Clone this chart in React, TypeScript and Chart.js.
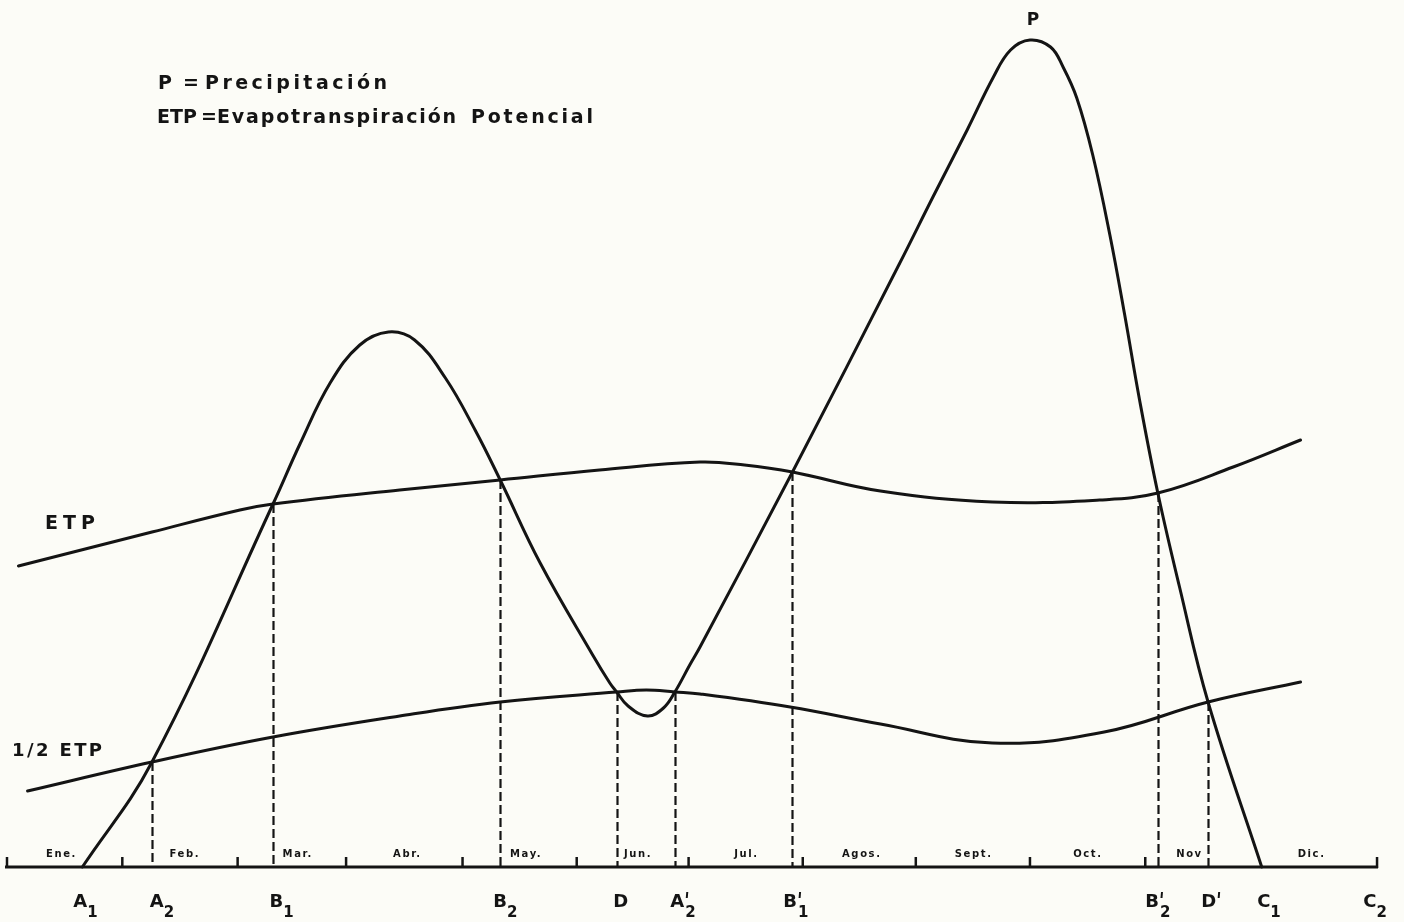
import React, { useEffect, useRef } from "react";
import { Chart, registerables } from "chart.js";

Chart.register(...registerables);

// ---- Data (x in months from 1 Jan, y in mm) ----
const monthNames = ["Ene.", "Feb.", "Mar.", "Abr.", "May.", "Jun.", "Jul.", "Agos.", "Sept.", "Oct.", "Nov", "Dic."];
const monthLabelCenters = [0.47, 1.55, 2.54, 3.5, 4.54, 5.52, 6.47, 7.48, 8.46, 9.46, 10.35, 11.42];
const monthEdges = [0, 1.01, 2.02, 2.97, 3.99, 4.99, 5.97, 6.97, 7.96, 8.96, 9.97, 12.0];

const pMonths = [0.66, 1.27, 2.33, 2.57, 2.83, 3.09, 3.34, 3.57, 3.84, 4.1, 4.32, 4.67, 5.13, 5.28, 5.34, 5.44, 5.61, 5.75, 5.85, 5.98, 6.07, 6.88, 7.82, 8.11, 8.41, 8.64, 8.79, 8.96, 9.14, 9.25, 9.37, 9.51, 9.66, 9.79, 9.92, 10.08, 10.27, 10.52, 10.99];
const pValues = [0, 42, 145.2, 169.6, 193.6, 208.8, 214, 210.8, 195.6, 174.8, 154.8, 121.6, 84.8, 73.6, 70, 64.4, 60.4, 63.6, 70, 80.8, 88, 158, 241.6, 268, 294.8, 316, 326.8, 330.8, 328, 320, 307.6, 284.8, 252.8, 220.8, 186.8, 149.6, 112, 66, 0];

const etpMonths = [0.1, 1.27, 2.04, 2.33, 3.44, 4.32, 5.19, 6.07, 6.46, 6.88, 7.65, 8.63, 9.57, 10.08, 10.74, 11.33];
const etpValues = [120.4, 134, 142.8, 145.2, 150.8, 154.8, 158.8, 162, 160.8, 158, 150.4, 146, 146.8, 149.6, 160, 170.8];

const halfMonths = [0.18, 1.27, 2.33, 3.44, 4.32, 5.34, 5.6, 5.85, 6.07, 6.86, 7.65, 8.63, 9.61, 10.52, 11.33];
const halfValues = [30.4, 42, 52, 60.4, 66, 70, 70.8, 70, 69.2, 64, 57.2, 49.6, 54, 66, 74];

const keyMonths = [1.27, 2.33, 4.32, 5.34, 5.85, 6.88, 10.08, 10.52];
const keyValues = [42, 145.2, 154.8, 70, 70, 158, 149.6, 66];

const axisLabels = ["A1", "A2", "B1", "B2", "D", "A'2", "B'1", "B'2", "D'", "C1", "C2"];
const axisLabelMonths = [0.58, 1.25, 2.3, 4.26, 5.31, 5.81, 6.8, 9.97, 10.46, 10.95, 11.88];

const W = 1404;
const H = 922;
const INK = "#141414";
const PAPER = "#fcfcf7";
const FONT = '"DejaVu Sans", "Liberation Sans", sans-serif';

function zip(xs: number[], ys: number[]) {
  return xs.map((x, i) => ({ x, y: ys[i] }));
}

function fitText(ctx: CanvasRenderingContext2D, text: string, x: number, y: number, w: number) {
  const c: any = ctx;
  c.letterSpacing = "0px";
  const m = ctx.measureText(text).width;
  const n = text.length;
  const ls = n > 1 ? (w - m) / (n - 1) : 0;
  c.letterSpacing = ls.toFixed(2) + "px";
  ctx.fillText(text, x, y);
  c.letterSpacing = "0px";
}

const diagramPlugin = {
  id: "diagram",
  beforeDraw(chart: any) {
    const ctx = chart.ctx;
    ctx.save();
    ctx.fillStyle = PAPER;
    ctx.fillRect(0, 0, chart.width, chart.height);
    ctx.restore();
  },
  beforeDatasetsDraw(chart: any) {
    const ctx = chart.ctx;
    const xs = chart.scales.x;
    const ys = chart.scales.y;
    const y0 = ys.getPixelForValue(0);
    ctx.save();
    ctx.strokeStyle = INK;
    ctx.lineWidth = 2.2;
    ctx.setLineDash([9, 4]);
    keyMonths.forEach((m, i) => {
      const px = Math.round(xs.getPixelForValue(m)) + 0.5;
      ctx.beginPath();
      ctx.moveTo(px, ys.getPixelForValue(keyValues[i]));
      ctx.lineTo(px, y0);
      ctx.stroke();
    });
    ctx.restore();
  },
  afterDatasetsDraw(chart: any) {
    const ctx = chart.ctx;
    const xs = chart.scales.x;
    const ys = chart.scales.y;
    const y0 = ys.getPixelForValue(0);
    ctx.save();
    ctx.strokeStyle = INK;
    ctx.fillStyle = INK;
    ctx.lineCap = "butt";
    // axis line
    ctx.lineWidth = 3;
    ctx.beginPath();
    ctx.moveTo(xs.getPixelForValue(monthEdges[0]) - 2, y0);
    ctx.lineTo(xs.getPixelForValue(monthEdges[monthEdges.length - 1]) + 1, y0);
    ctx.stroke();
    // ticks
    ctx.lineWidth = 2.5;
    monthEdges.forEach((m) => {
      const px = xs.getPixelForValue(m);
      ctx.beginPath();
      ctx.moveTo(px, y0 + 1);
      ctx.lineTo(px, y0 - 10);
      ctx.stroke();
    });
    // month labels
    ctx.font = "bold 10px " + FONT;
    ctx.textBaseline = "alphabetic";
    ctx.textAlign = "left";
    monthNames.forEach((name, i) => {
      const cx = xs.getPixelForValue(monthLabelCenters[i]);
      const w = ctx.measureText(name).width + (name.length - 1) * 1.6;
      fitText(ctx, name, cx - w / 2, y0 - 10, w);
    });
    // point labels under the axis
    axisLabels.forEach((lab, i) => {
      const px = xs.getPixelForValue(axisLabelMonths[i]);
      const main = lab[0];
      const prime = lab.includes("'");
      const sub = lab.replace(/[^0-9]/g, "");
      ctx.font = "bold 18px " + FONT;
      ctx.fillText(main, px, y0 + 40);
      const mw = ctx.measureText(main).width;
      if (prime) {
        ctx.lineWidth = 2;
        ctx.beginPath();
        ctx.moveTo(px + mw + 3, y0 + 25);
        ctx.lineTo(px + mw + 2.5, y0 + 31);
        ctx.stroke();
      }
      if (sub) {
        ctx.font = "bold 15px " + FONT;
        ctx.fillText(sub, px + mw + (prime ? 1 : 0), y0 + 50);
      }
    });
    // curve labels
    ctx.font = "bold 19px " + FONT;
    fitText(ctx, "ETP", 45, 529, 50);
    ctx.font = "bold 18px " + FONT;
    fitText(ctx, "1/2 ETP", 12, 756, 90);
    // P label above the main peak
    let iMax = 0;
    pValues.forEach((v, i) => {
      if (v > pValues[iMax]) iMax = i;
    });
    const peakX = xs.getPixelForValue(pMonths[iMax]);
    const peakY = ys.getPixelForValue(pValues[iMax]);
    ctx.font = "bold 17px " + FONT;
    ctx.textAlign = "center";
    ctx.fillText("P", peakX + 3, peakY - 15);
    ctx.textAlign = "left";
    // legend
    ctx.font = "bold 19px " + FONT;
    fitText(ctx, "P", 158, 89, 11);
    fitText(ctx, "=", 183, 89, 10);
    fitText(ctx, "Precipitación", 205, 89, 182);
    fitText(ctx, "ETP", 157, 123, 40);
    fitText(ctx, "=", 201, 123, 10);
    fitText(ctx, "Evapotranspiración", 217, 123, 239);
    fitText(ctx, "Potencial", 471, 123, 122);
    ctx.restore();
  },
};

export default function App() {
  const ref = useRef<HTMLCanvasElement | null>(null);
  useEffect(() => {
    if (!ref.current) return;
    const lineStyle = {
      borderColor: INK,
      borderWidth: 3,
      pointRadius: 0,
      fill: false,
      tension: 0.4,
      borderCapStyle: "round" as const,
      borderJoinStyle: "round" as const,
    };
    const chart = new Chart(ref.current, {
      type: "line",
      data: {
        datasets: [
          { label: "P", data: zip(pMonths, pValues), ...lineStyle },
          { label: "ETP", data: zip(etpMonths, etpValues), ...lineStyle },
          { label: "1/2 ETP", data: zip(halfMonths, halfValues), ...lineStyle },
        ],
      },
      options: {
        animation: false,
        responsive: false,
        maintainAspectRatio: false,
        devicePixelRatio: 1,
        layout: { padding: 0 },
        plugins: { legend: { display: false }, tooltip: { enabled: false } },
        events: [],
        scales: {
          x: { type: "linear", display: false, min: -7 / 114.17, max: 1397 / 114.17 },
          y: { type: "linear", display: false, min: -22, max: 346.8 },
        },
      },
      plugins: [diagramPlugin],
    });
    return () => chart.destroy();
  }, []);
  return (
    <div style={{ position: "fixed", left: 0, top: 0, width: W, height: H, background: PAPER }}>
      <canvas ref={ref} width={W} height={H} style={{ width: W, height: H, display: "block" }} />
    </div>
  );
}
